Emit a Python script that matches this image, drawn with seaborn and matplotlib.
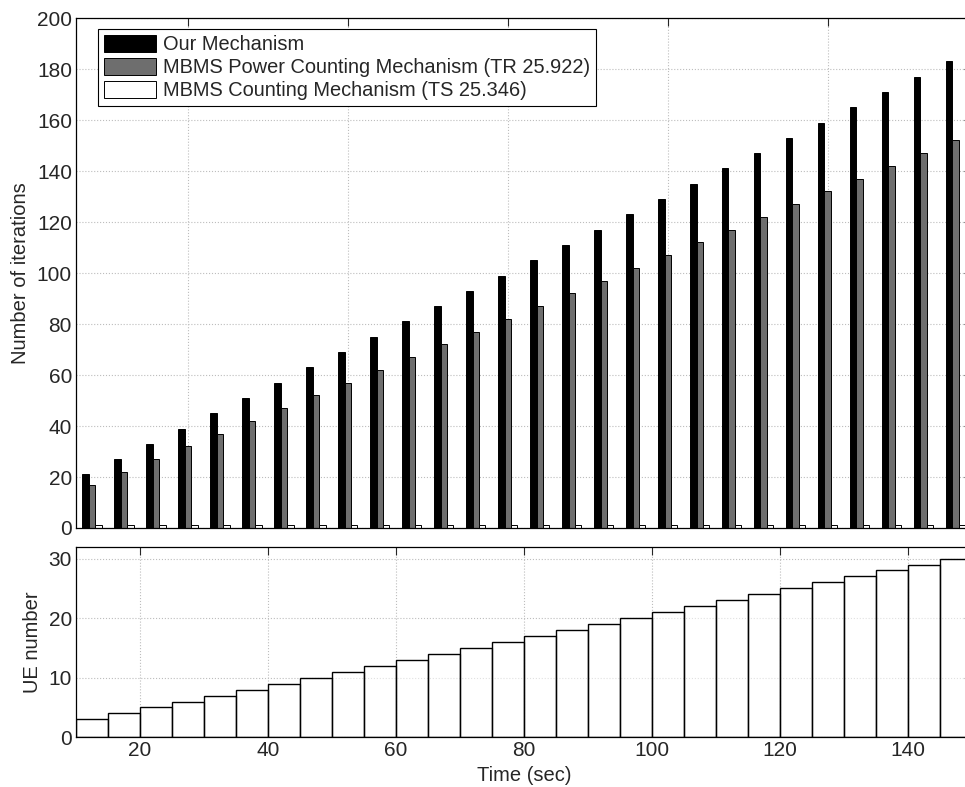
import numpy as np
import pandas as pd
import seaborn as sns
import matplotlib
matplotlib.use("Agg")
from matplotlib import pyplot as plt
from matplotlib.patches import Patch

# data
time_sec = [10, 15, 20, 25, 30, 35, 40, 45, 50, 55, 60, 65, 70, 75,
            80, 85, 90, 95, 100, 105, 110, 115, 120, 125, 130, 135, 140, 145]
ue_number = [3, 4, 5, 6, 7, 8, 9, 10, 11, 12, 13, 14, 15, 16,
             17, 18, 19, 20, 21, 22, 23, 24, 25, 26, 27, 28, 29, 30]
our_mech = [21, 27, 33, 39, 45, 51, 57, 63, 69, 75, 81, 87, 93, 99,
            105, 111, 117, 123, 129, 135, 141, 147, 153, 159, 165, 171, 177, 183]
power_counting = [17, 22, 27, 32, 37, 42, 47, 52, 57, 62, 67, 72, 77, 82,
                  87, 92, 97, 102, 107, 112, 117, 122, 127, 132, 137, 142, 147, 152]
counting = [1, 1, 1, 1, 1, 1, 1, 1, 1, 1, 1, 1, 1, 1,
            1, 1, 1, 1, 1, 1, 1, 1, 1, 1, 1, 1, 1, 1]
series_names = ["Our Mechanism",
                "MBMS Power Counting Mechanism (TR 25.922)",
                "MBMS Counting Mechanism (TS 25.346)"]
series_colors = ["#000000", "#6e6e6e", "#ffffff"]

# long table for seaborn
df = pd.concat([
    pd.DataFrame({"time": time_sec, "iterations": vals, "series": name})
    for name, vals in zip(series_names, [our_mech, power_counting, counting])
], ignore_index=True)
palette = dict(zip(series_names, series_colors))

sns.set_style("white")
plt.rcParams['font.family'] = ['Liberation Sans', 'DejaVu Sans']

fig = plt.figure(figsize=(9.65, 7.87), dpi=100)
ax1 = fig.add_axes([0.0788, 0.3291, 0.928, 0.648])
ax2 = fig.add_axes([0.0788, 0.0632, 0.928, 0.2422])

# top: grouped bars
sns.barplot(data=df, x="time", y="iterations", hue="series", hue_order=series_names,
            palette=palette, native_scale=True, width=0.6, saturation=1,
            edgecolor="black", linewidth=0.7, errorbar=None, legend=False, ax=ax1)
ax1.set_xlim(7.5, 147.5)
ax1.set_ylim(0, 200)
ax1.set_xticks([25, 50, 75, 100, 125])
ax1.set_xticklabels([])
ax1.set_yticks(range(0, 201, 20))
ax1.set_xlabel("")
ax1.set_ylabel("Number of iterations", fontsize=14.5, labelpad=5)

handles = [Patch(facecolor=c, edgecolor="black", linewidth=0.7) for c in series_colors]
leg = ax1.legend(handles, series_names, loc="upper left", bbox_to_anchor=(0.0245, 0.979),
                 borderaxespad=0, fontsize=14.4, handlelength=2.6, handleheight=0.95,
                 handletextpad=0.35, labelspacing=0.18, borderpad=0.3,
                 fancybox=False, framealpha=1)
leg.get_frame().set_edgecolor("black")
leg.get_frame().set_linewidth(0.8)

# bottom: UE number steps
sns.histplot(x=time_sec, weights=ue_number, binwidth=5, binrange=(10, 150),
             color="white", edgecolor="black", linewidth=1.0, alpha=1, ax=ax2)
for p in ax2.patches:
    p.set_facecolor((1, 1, 1, 0.55))
ax2.set_xlim(10, 150)
ax2.set_ylim(0, 32)
ax2.set_xticks(range(20, 141, 20))
ax2.set_yticks([0, 10, 20, 30])
ax2.set_xlabel("Time (sec)", fontsize=14.5, labelpad=4)
ax2.set_ylabel("UE number", fontsize=14.5, labelpad=5)

for ax in (ax1, ax2):
    ax.set_axisbelow(True)
    ax.grid(True, linestyle=":", color="#bdbdbd", linewidth=0.8)
    ax.tick_params(direction="in", top=True, right=True, length=6, width=0.8,
                   labelsize=15, pad=3)
    for sp in ax.spines.values():
        sp.set_color("black")
        sp.set_linewidth(0.9)

fig.savefig("out.png", dpi=100)
